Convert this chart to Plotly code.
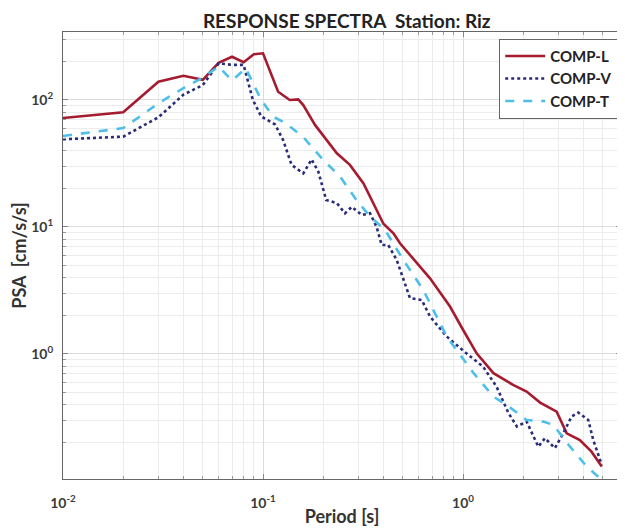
import plotly.graph_objects as go

# ---- data ----
period_L = [0.01, 0.02, 0.03, 0.04, 0.05, 0.06, 0.07, 0.08, 0.09, 0.1, 0.119, 0.136, 0.15, 0.159,
            0.182, 0.234, 0.272, 0.318, 0.37, 0.4, 0.449, 0.484, 0.684, 0.861, 1.0, 1.17, 1.42,
            1.78, 2.08, 2.43, 2.94, 3.3, 3.84, 4.39, 4.94]
psa_L = [72, 80, 139, 155, 144, 196, 219, 198, 229, 233, 116, 100, 101, 91,
         63.6, 38, 30.8, 22, 13.6, 10.6, 8.9, 7.44, 3.94, 2.36, 1.55, 1.01, 0.705,
         0.57, 0.505, 0.414, 0.351, 0.237, 0.21, 0.17, 0.13]

period_V = [0.01, 0.02, 0.03, 0.04, 0.05, 0.06, 0.07, 0.08, 0.089, 0.098, 0.115, 0.126, 0.139,
            0.147, 0.159, 0.175, 0.189, 0.207, 0.234, 0.257, 0.278, 0.312, 0.343, 0.37, 0.392,
            0.423, 0.466, 0.543, 0.622, 0.684, 0.829, 1.04, 1.26, 1.47, 1.69, 1.86, 2.08, 2.38,
            2.57, 2.88, 3.17, 3.49, 3.77, 4.23, 4.48, 4.94]
psa_V = [49, 51.4, 73, 110, 131, 194, 189, 189, 100, 74, 64, 48.4, 30.8,
         29, 26.4, 34, 27.3, 16.3, 15.4, 12.8, 14.4, 12.4, 12.8, 10.0, 7.2,
         7.2, 5.5, 2.75, 2.66, 1.97, 1.37, 1.01, 0.794, 0.553, 0.341, 0.268, 0.293, 0.186,
         0.217, 0.181, 0.237, 0.321, 0.345, 0.302, 0.21, 0.134]

period_T = [0.01, 0.02, 0.03, 0.04, 0.05, 0.06, 0.07, 0.082, 0.097, 0.112, 0.13, 0.159, 0.2,
            0.243, 0.293, 0.343, 0.407, 0.503, 0.633, 0.829, 1.13, 1.42, 1.65, 2.08, 2.52,
            2.83, 3.43, 4.15, 4.84]
psa_T = [52, 60, 94, 124, 150, 183, 142, 178, 103, 74, 65.5, 51, 33.7,
         24.9, 16.3, 12.1, 9.5, 5.5, 3.19, 1.37, 0.705, 0.461, 0.397, 0.302, 0.293,
         0.276, 0.186, 0.13, 0.105]

x_tickvals = [0.01, 0.1, 1]
x_ticktext = ["10<sup>-2</sup>", "10<sup>-1</sup>", "10<sup>0</sup>"]
y_tickvals = [1, 10, 100]
y_ticktext = ["10<sup>0</sup>", "10<sup>1</sup>", "10<sup>2</sup>"]

title_text = "RESPONSE SPECTRA&nbsp;&nbsp;Station:&nbsp;Riz"
x_label = "Period [s]"
y_label = "PSA&nbsp;&nbsp;[cm/s/s]"

FONT = "Lato"


def minor_vals(decades):
    return [m * 10.0 ** d for d in decades for m in range(2, 10)]


fig = go.Figure()
fig.add_trace(go.Scatter(x=period_L, y=psa_L, mode="lines", name="<b>COMP-L</b>",
                         line=dict(color="#A51C30", width=2.6)))
fig.add_trace(go.Scatter(x=period_V, y=psa_V, mode="lines", name="<b>COMP-V</b>",
                         line=dict(color="#2A2C78", width=2.6, dash="dot")))
fig.add_trace(go.Scatter(x=period_T, y=psa_T, mode="lines", name="<b>COMP-T</b>",
                         line=dict(color="#4DBFE8", width=2.6, dash="dash")))

axis_common = dict(
    type="log", showline=True, linecolor="#666666", automargin=False,
    linewidth=1, mirror="ticks", ticks="inside", ticklen=5, tickcolor="#888888",
    showgrid=True, gridcolor="#dcdcdc", gridwidth=1, zeroline=False,
    tickfont=dict(family=FONT, size=14, color="#3a3a3a", weight="bold"),
)
minor_common = dict(ticks="inside", ticklen=3, tickcolor="#999999", showgrid=True,
                    gridcolor="#ececec", gridwidth=1, tickmode="array")

fig.update_xaxes(range=[-2, 0.79], tickmode="array", tickvals=x_tickvals, ticktext=x_ticktext,
                 ticklabelstandoff=11, **axis_common,
                 minor=dict(tickvals=minor_vals([-2, -1, 0]), **minor_common),
                 title=dict(text=f"<b>{x_label}</b>", font=dict(family=FONT, size=18, color="#333333"),
                            standoff=0))
fig.update_yaxes(range=[-0.985, 2.535], tickmode="array", tickvals=y_tickvals, ticktext=y_ticktext,
                 ticklabelstandoff=6, **axis_common,
                 minor=dict(tickvals=minor_vals([-1, 0, 1, 2]), **minor_common),
                 title=dict(text=f"<b>{y_label}</b>", font=dict(family=FONT, size=18, color="#333333"),
                            standoff=2))

# page body has an 8px margin: figure is sized so the plot area lands where the reference has it
fig.update_layout(
    width=617, height=523,
    margin=dict(l=55, r=4, t=24, b=52),
    paper_bgcolor="white", plot_bgcolor="white",
    title=dict(text=f"<b>{title_text}</b>", x=0.549, xanchor="center", y=0.975, yanchor="middle",
               font=dict(family=FONT, size=19, color="#222222")),
    legend=dict(x=0.995, y=0.985, xanchor="right", yanchor="top",
                bgcolor="white", bordercolor="#666666", borderwidth=1,
                font=dict(family=FONT, size=15, color="#222222"),
                tracegroupgap=0, itemwidth=40),
    showlegend=True,
)

fig.write_html("out.html")
